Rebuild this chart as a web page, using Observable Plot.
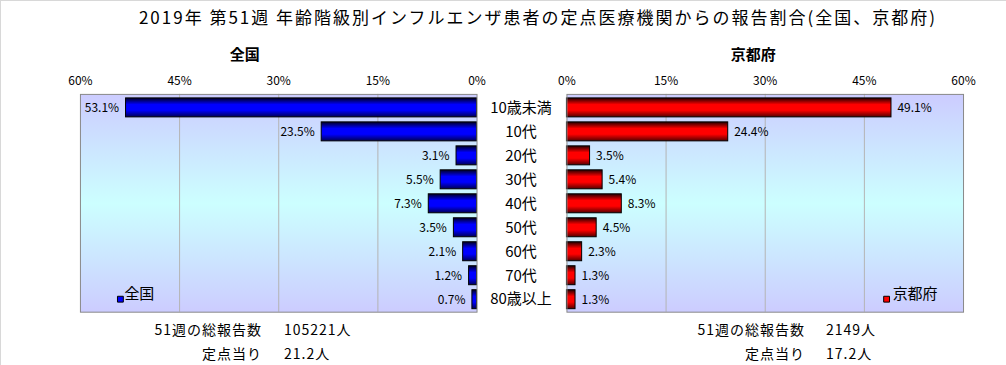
<!DOCTYPE html>
<html><head><meta charset="utf-8">
<script src="https://cdn.jsdelivr.net/npm/d3@7"></script>
<script src="https://cdn.jsdelivr.net/npm/@observablehq/plot@0.6"></script>
<style>
html,body{margin:0;padding:0;background:#fff;}
#wrap{position:relative;width:1006px;height:365px;overflow:hidden;font-family:"Noto Sans CJK JP",sans-serif;color:#000;box-sizing:border-box;border-top:1px solid #d8d8d8;border-left:1px solid #d8d8d8;}
#wrap svg{position:absolute;left:0;top:0;}
.t{position:absolute;white-space:nowrap;}
</style></head><body>
<div id="wrap"></div>
<script>
const categories = ["10歳未満","10代","20代","30代","40代","50代","60代","70代","80歳以上"];
const nationalPct = [53.1, 23.5, 3.1, 5.5, 7.3, 3.5, 2.1, 1.2, 0.7];
const kyotoPct = [49.1, 24.4, 3.5, 5.4, 8.3, 4.5, 2.3, 1.3, 1.3];
const tickValues = [0, 15, 30, 45, 60];
const panelNames = ["全国", "京都府"];
const week = 51;
const totalReports = [105221, 2149];
const perSentinel = [21.2, 17.2];
const mainTitle = "2019年 第51週 年齢階級別インフルエンザ患者の定点医療機関からの報告割合(全国、京都府)";

const wrap = document.getElementById("wrap");
const FONT = '"Noto Sans CJK JP", sans-serif';

function addDefs(svg, barId, c0, c1, c2, bgId) {
  const defs = d3.select(svg).insert("defs", ":first-child");
  const bg = defs.append("linearGradient").attr("id", bgId).attr("x1", 0).attr("y1", 0).attr("x2", 0).attr("y2", 1);
  bg.append("stop").attr("offset", "0%").attr("stop-color", "#ccccff");
  bg.append("stop").attr("offset", "50%").attr("stop-color", "#ccffff");
  bg.append("stop").attr("offset", "100%").attr("stop-color", "#ccccff");
  const g = defs.append("linearGradient").attr("id", barId).attr("x1", 0).attr("y1", 0).attr("x2", 0).attr("y2", 1);
  g.append("stop").attr("offset", "0%").attr("stop-color", c0);
  g.append("stop").attr("offset", "35%").attr("stop-color", c1);
  g.append("stop").attr("offset", "65%").attr("stop-color", c1);
  g.append("stop").attr("offset", "100%").attr("stop-color", c2);
}

function panel(values, side) {
  const data = categories.map((c, i) => ({cat: c, v: values[i]}));
  const left = side === "left";
  const barId = left ? "barBlue" : "barRed";
  const bgId = left ? "bgL" : "bgR";
  const marks = [
    Plot.frame({fill: `url(#${bgId})`, stroke: "none"}),
    Plot.ruleX(tickValues.filter(t => t > 0 && t < 60), {stroke: "#b4b4b4", strokeWidth: 1}),
    Plot.barX(data, {x: "v", y: "cat", fill: `url(#${barId})`, stroke: "#000", strokeWidth: 1}),
    Plot.text(data, {x: "v", y: "cat", text: d => d.v.toFixed(1) + "%", textAnchor: left ? "end" : "start", dx: left ? -7 : 6, fontSize: 12, fill: "#000"}),
    Plot.frame({stroke: "#888888", strokeWidth: 1}),
    Plot.dot([0], {frameAnchor: left ? "bottom-left" : "bottom-right", dx: left ? 40 : -77, dy: -13, symbol: "square", r: 3.3, fill: left ? "#0000ff" : "#ff0000", stroke: "#000", strokeWidth: 1}),
    Plot.text([panelNames[left ? 0 : 1]], {frameAnchor: left ? "bottom-left" : "bottom-right", dx: left ? 44 : -26, dy: -13, textAnchor: left ? "start" : "end", fontSize: 15, fill: "#000"}),
    Plot.text([panelNames[left ? 0 : 1]], {frameAnchor: "top", dx: left ? -34 : -12, dy: -45, fontSize: 15, fontWeight: "bold", fill: "#000"})
  ];
  if (!left) {
    marks.push(Plot.text(categories, {y: d => d, frameAnchor: "left", dx: -46, textAnchor: "middle", fontSize: 15, fill: "#000"}));
  }
  const svg = Plot.plot({
    width: 1006,
    height: 365,
    marginLeft: left ? 79 : 566,
    marginRight: left ? 530 : 43,
    marginTop: 93,
    marginBottom: 54,
    style: {background: "transparent", fontFamily: FONT, fontSize: "12px", color: "#000", overflow: "visible"},
    x: {domain: [0, 60], reverse: left, axis: "top", ticks: tickValues, tickFormat: d => d + "%", tickSize: 0, tickPadding: 9, label: null},
    y: {domain: categories, range: [96, 310], paddingInner: 0.2, paddingOuter: 0, axis: null},
    marks
  });
  if (left) addDefs(svg, barId, "#000022", "#0000ff", "#000055", bgId);
  else addDefs(svg, barId, "#220000", "#ff0000", "#550000", bgId);
  return svg;
}

wrap.appendChild(panel(nationalPct, "left"));
wrap.appendChild(panel(kyotoPct, "right"));

function addText(txt, css) {
  const d = document.createElement("div");
  d.className = "t";
  d.textContent = txt;
  Object.assign(d.style, css);
  wrap.appendChild(d);
}
addText(mainTitle, {left: "537px", top: "6px", transform: "translateX(-50%)", fontSize: "17px", lineHeight: "20px", letterSpacing: "2px"});

const labelRights = [262, 805];
const valueLefts = [283, 825];
for (let i = 0; i < 2; i++) {
  addText(`${week}週の総報告数`, {right: (1006 - labelRights[i]) + "px", top: "318px", fontSize: "14px", lineHeight: "20px", letterSpacing: "1px", textAlign: "right"});
  addText(`${totalReports[i]}人`, {left: valueLefts[i] + "px", top: "318px", fontSize: "14px", lineHeight: "20px", letterSpacing: "1px"});
  addText("定点当り", {right: (1006 - labelRights[i]) + "px", top: "342px", fontSize: "14px", lineHeight: "20px", letterSpacing: "1px", textAlign: "right"});
  addText(`${perSentinel[i]}人`, {left: valueLefts[i] + "px", top: "342px", fontSize: "14px", lineHeight: "20px", letterSpacing: "1px"});
}
</script>
</body></html>
